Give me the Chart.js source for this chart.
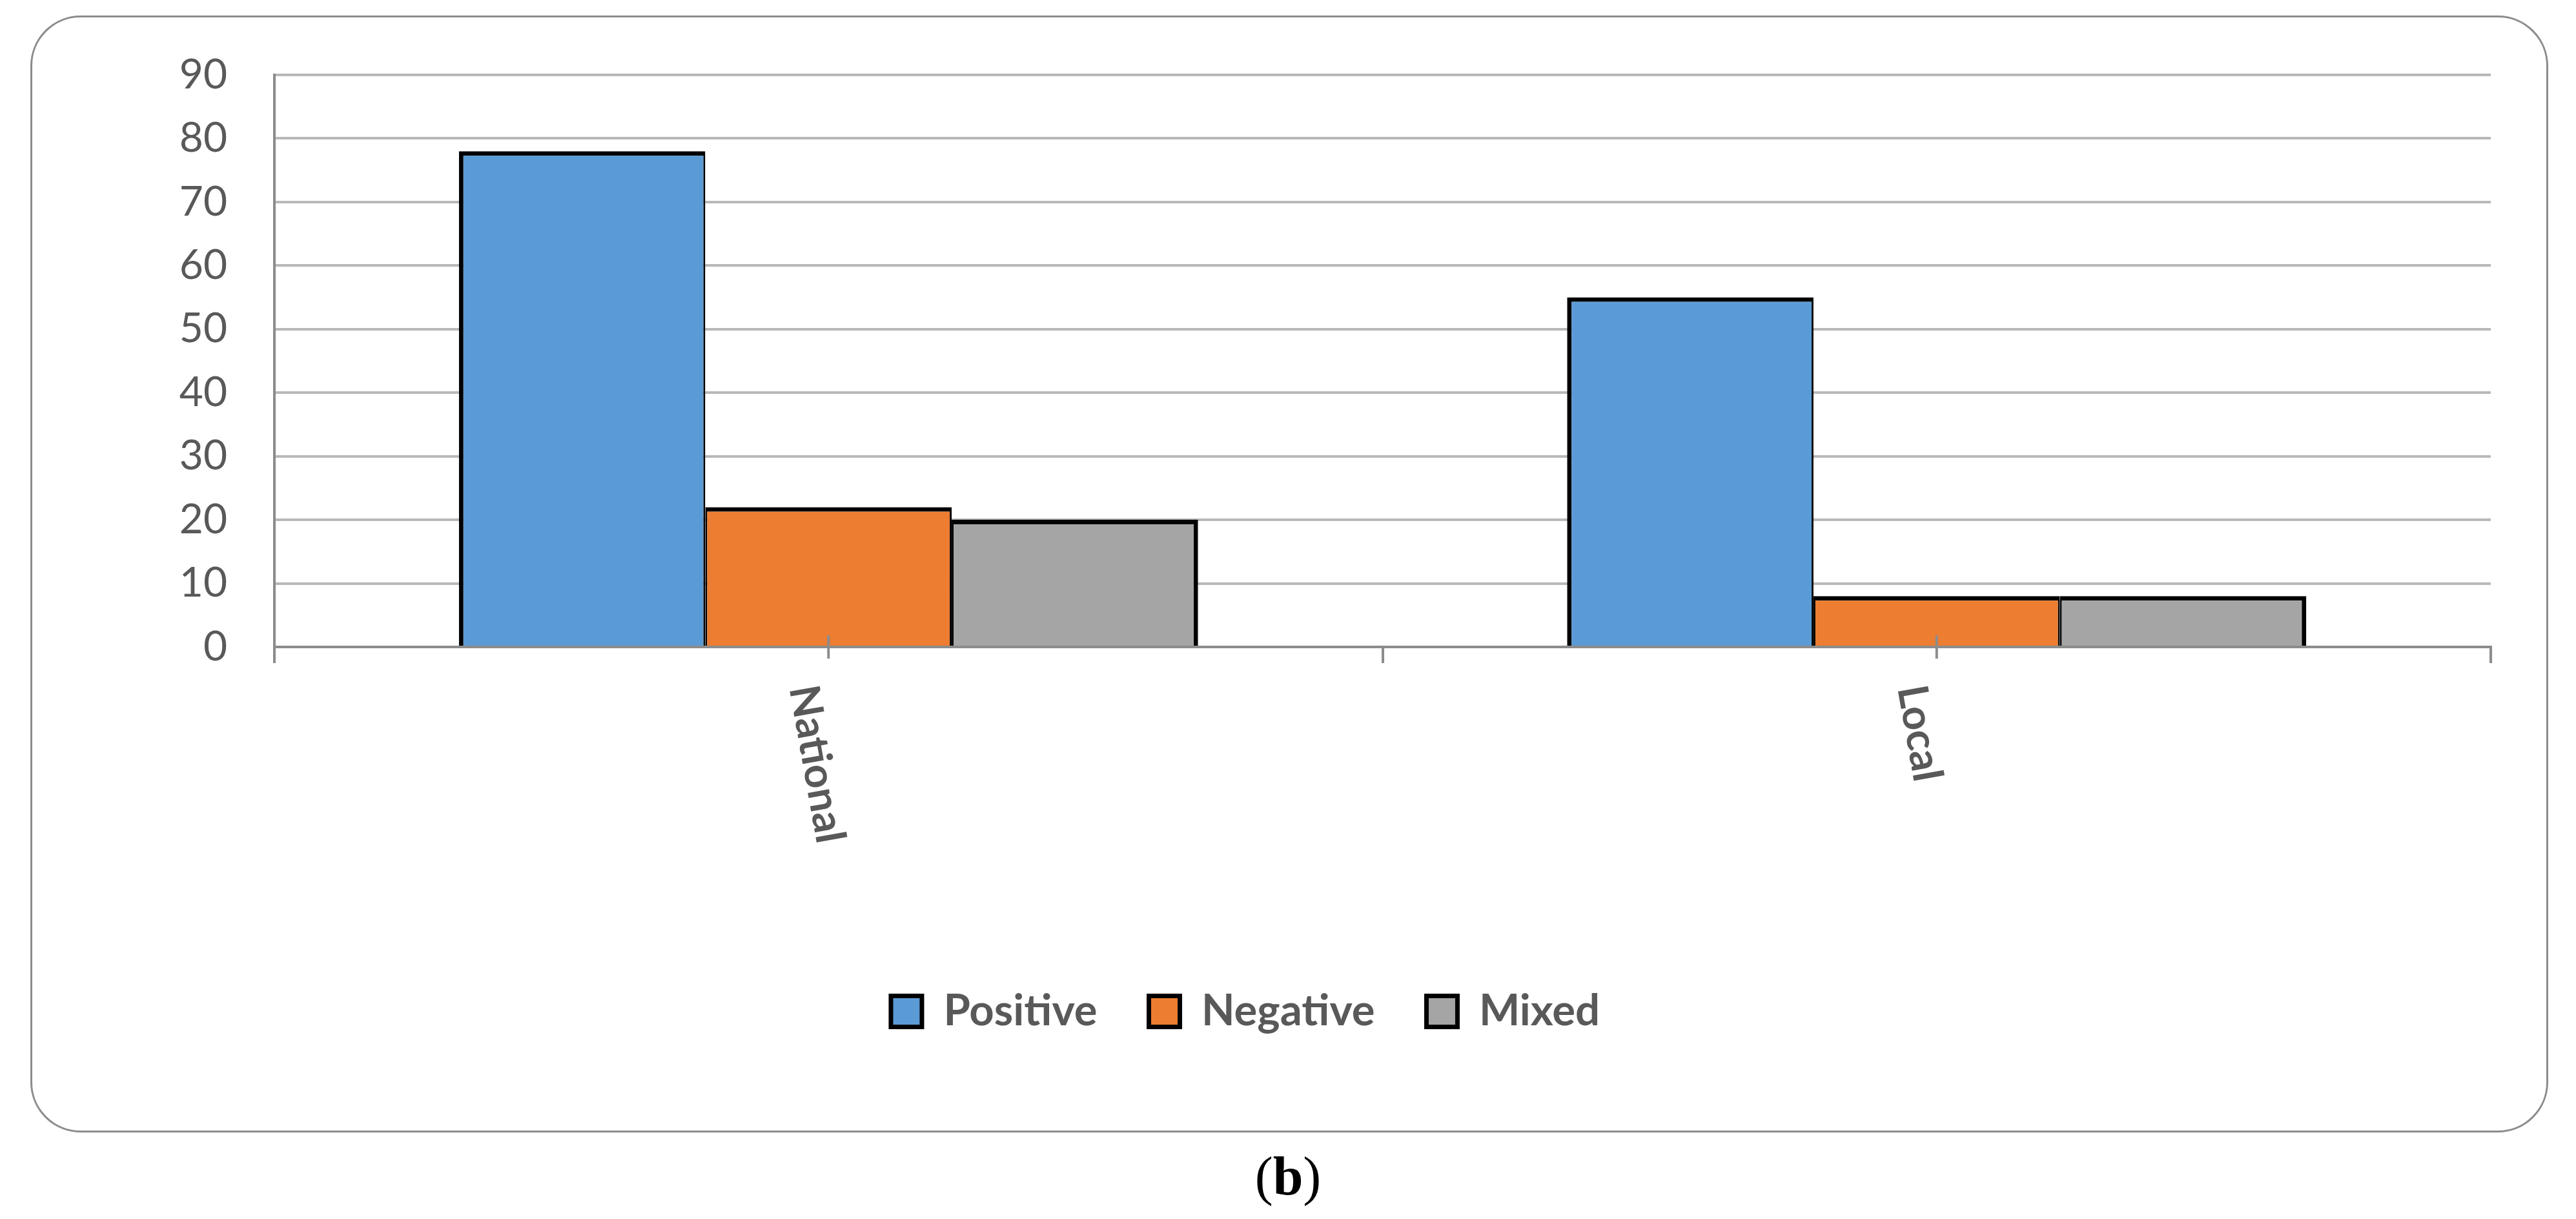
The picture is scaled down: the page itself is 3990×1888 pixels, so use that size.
<!DOCTYPE html>
<html>
<head>
<meta charset="utf-8">
<script src="https://cdn.jsdelivr.net/npm/chart.js@4.4.1/dist/chart.umd.min.js"></script>
<style>
  html, body { margin: 0; padding: 0; background: #fff; }
  body { width: 3990px; height: 1888px; position: relative; overflow: hidden; }
  #frame {
    position: absolute; left: 47px; top: 24px; width: 3900px; height: 1730px;
    box-sizing: border-box; border: 3px solid #8c8c8c; border-radius: 78px;
  }
  #chartCanvas { position: absolute; left: 0; top: 0; }
  #caption {
    position: absolute; left: 0; top: 1780px; width: 3990px; text-align: center;
    font-family: "Liberation Serif", "DejaVu Serif", serif; font-size: 84px; line-height: 84px; color: #000;
  }
</style>
</head>
<body>
<div id="frame"></div>
<canvas id="chartCanvas" width="3990" height="1888"></canvas>
<div id="caption">(<b>b</b>)</div>

<script>
const categories = ["National", "Local"];
const positive = [78, 55];
const negative = [22, 8];
const mixed = [20, 8];
const seriesNames = ["Positive", "Negative", "Mixed"];
const yMax = 90;
const yStep = 10;

const textColor = "#595959";
const axisColor = "#8c8c8c";
const gridColor = "#b8b8b8";

// tick marks under the axis at each category centre
const centerTicks = {
    id: "centerTicks",
    afterDraw(chart) {
        const ctx = chart.ctx;
        const x = chart.scales.x;
        const base = x.top;
        ctx.save();
        ctx.strokeStyle = axisColor;
        ctx.lineWidth = 4;
        categories.forEach((c, i) => {
            const px = x.getPixelForValue(i);
            ctx.beginPath();
            ctx.moveTo(px, base - 18);
            ctx.lineTo(px, base + 18);
            ctx.stroke();
        });
        ctx.restore();
    }
};

// category labels turned clockwise, reading downwards
const rotatedLabels = {
    id: "rotatedLabels",
    afterDraw(chart) {
        const ctx = chart.ctx;
        const x = chart.scales.x;
        ctx.save();
        ctx.fillStyle = textColor;
        ctx.font = "bold 65px Lato";
        ctx.textAlign = "left";
        ctx.textBaseline = "middle";
        categories.forEach((c, i) => {
            const px = x.getPixelForValue(i);
            ctx.save();
            ctx.translate(px - 40, x.top + 60);
            ctx.rotate(80 * Math.PI / 180);
            ctx.fillText(c, 0, 0);
            ctx.restore();
        });
        ctx.restore();
    }
};

const ctx = document.getElementById("chartCanvas").getContext("2d");

new Chart(ctx, {
    type: "bar",
    data: {
        labels: categories,
        datasets: [
            {
                label: seriesNames[0],
                data: positive,
                backgroundColor: "#5b9bd5",
                borderColor: "#000",
                borderWidth: { top: 7, left: 7, right: 3, bottom: 0 }
            },
            {
                label: seriesNames[1],
                data: negative,
                backgroundColor: "#ed7d31",
                borderColor: "#000",
                borderWidth: { top: 7, left: 3, right: 3, bottom: 0 }
            },
            {
                label: seriesNames[2],
                data: mixed,
                backgroundColor: "#a5a5a5",
                borderColor: "#000",
                borderWidth: { top: 7, left: 3, right: 7, bottom: 0 }
            }
        ]
    },
    options: {
        responsive: false,
        animation: false,
        devicePixelRatio: 1,
        layout: { padding: { top: 116, right: 132, bottom: 278, left: 0 } },
        datasets: { bar: { categoryPercentage: 0.667, barPercentage: 1.0 } },
        scales: {
            x: {
                z: 1,
                offset: true,
                ticks: { display: false },
                grid: {
                    offset: true,
                    drawOnChartArea: false,
                    drawTicks: true,
                    tickLength: 25,
                    color: axisColor,
                    lineWidth: 4
                },
                border: { display: true, color: axisColor, width: 4 },
                afterFit(scale) { scale.height = 451; }
            },
            y: {
                min: 0,
                max: yMax,
                ticks: {
                    stepSize: yStep,
                    padding: 73,
                    color: textColor,
                    font: { family: "Lato", size: 64 }
                },
                grid: { color: gridColor, lineWidth: 4, drawTicks: false },
                border: { display: true, color: axisColor, width: 4 },
                afterFit(scale) { scale.width = 425; }
            }
        },
        plugins: {
            tooltip: { enabled: false },
            legend: {
                position: "bottom",
                labels: {
                    boxWidth: 48,
                    boxHeight: 48,
                    padding: 80,
                    color: textColor,
                    font: { family: "Lato", size: 67, weight: "bold" },
                    generateLabels(chart) {
                        const items = Chart.defaults.plugins.legend.labels.generateLabels(chart);
                        items.forEach(it => { it.lineWidth = 7; it.strokeStyle = "#000"; });
                        return items;
                    }
                }
            }
        }
    },
    plugins: [centerTicks, rotatedLabels]
});
</script>
</body>
</html>
